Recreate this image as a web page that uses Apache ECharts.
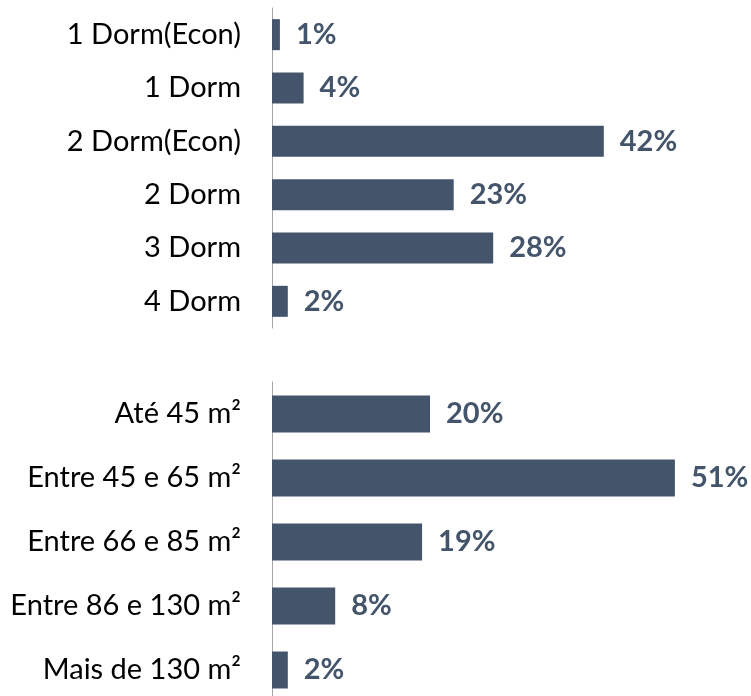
<!DOCTYPE html>
<html>
<head>
<meta charset="utf-8">
<script src="https://cdn.jsdelivr.net/npm/echarts@6/dist/echarts.min.js"></script>
<style>
  html, body { margin: 0; padding: 0; background: #fff; }
  #main { width: 751px; height: 696px; }
</style>
</head>
<body>
<div id="main"></div>
<script>
// tipologia
var dormCats = ['1 Dorm(Econ)', '1 Dorm', '2 Dorm(Econ)', '2 Dorm', '3 Dorm', '4 Dorm']
var dormVals = [1, 4, 42, 23, 28, 2]
// metragem
var areaCats = ['Até 45 m²', 'Entre 45 e 65 m²', 'Entre 66 e 85 m²', 'Entre 86 e 130 m²', 'Mais de 130 m²']
var areaVals = [20, 51, 19, 8, 2]

var barColor = '#44546A'
var font = 'Lato, "Open Sans", sans-serif'

var myChart = echarts.init(document.getElementById('main'))

function catAxis(idx, cats) {
  return {
    type: 'category',
    gridIndex: idx,
    data: cats,
    inverse: true,
    axisTick: { show: false },
    axisLine: { lineStyle: { color: '#A6A6A6', width: 1 } },
    axisLabel: { color: '#000', fontSize: 29, fontFamily: font, margin: 31 }
  }
}

function valAxis(idx) {
  return {
    type: 'value',
    gridIndex: idx,
    min: 0,
    max: 60,
    show: false,
    splitLine: { show: false }
  }
}

function barSeries(idx, vals, bw) {
  return {
    type: 'bar',
    xAxisIndex: idx,
    yAxisIndex: idx,
    data: vals,
    barWidth: bw,
    itemStyle: { color: barColor },
    label: {
      show: true,
      position: 'right',
      distance: 16,
      formatter: '{c}%',
      color: barColor,
      fontWeight: 'bold',
      fontSize: 29,
      fontFamily: font
    }
  }
}

var options = {
  animation: false,
  grid: [
    { left: 272, top: 8, width: 474, height: 320, outerBoundsMode: 'none' },
    // the lower axis runs past the bottom edge in the original
    { left: 272, top: 382, width: 474, height: 320, outerBoundsMode: 'none' }
  ],
  xAxis: [valAxis(0), valAxis(1)],
  yAxis: [catAxis(0, dormCats), catAxis(1, areaCats)],
  series: [barSeries(0, dormVals, 31), barSeries(1, areaVals, 37)]
}

myChart.setOption(options)
</script>
</body>
</html>
